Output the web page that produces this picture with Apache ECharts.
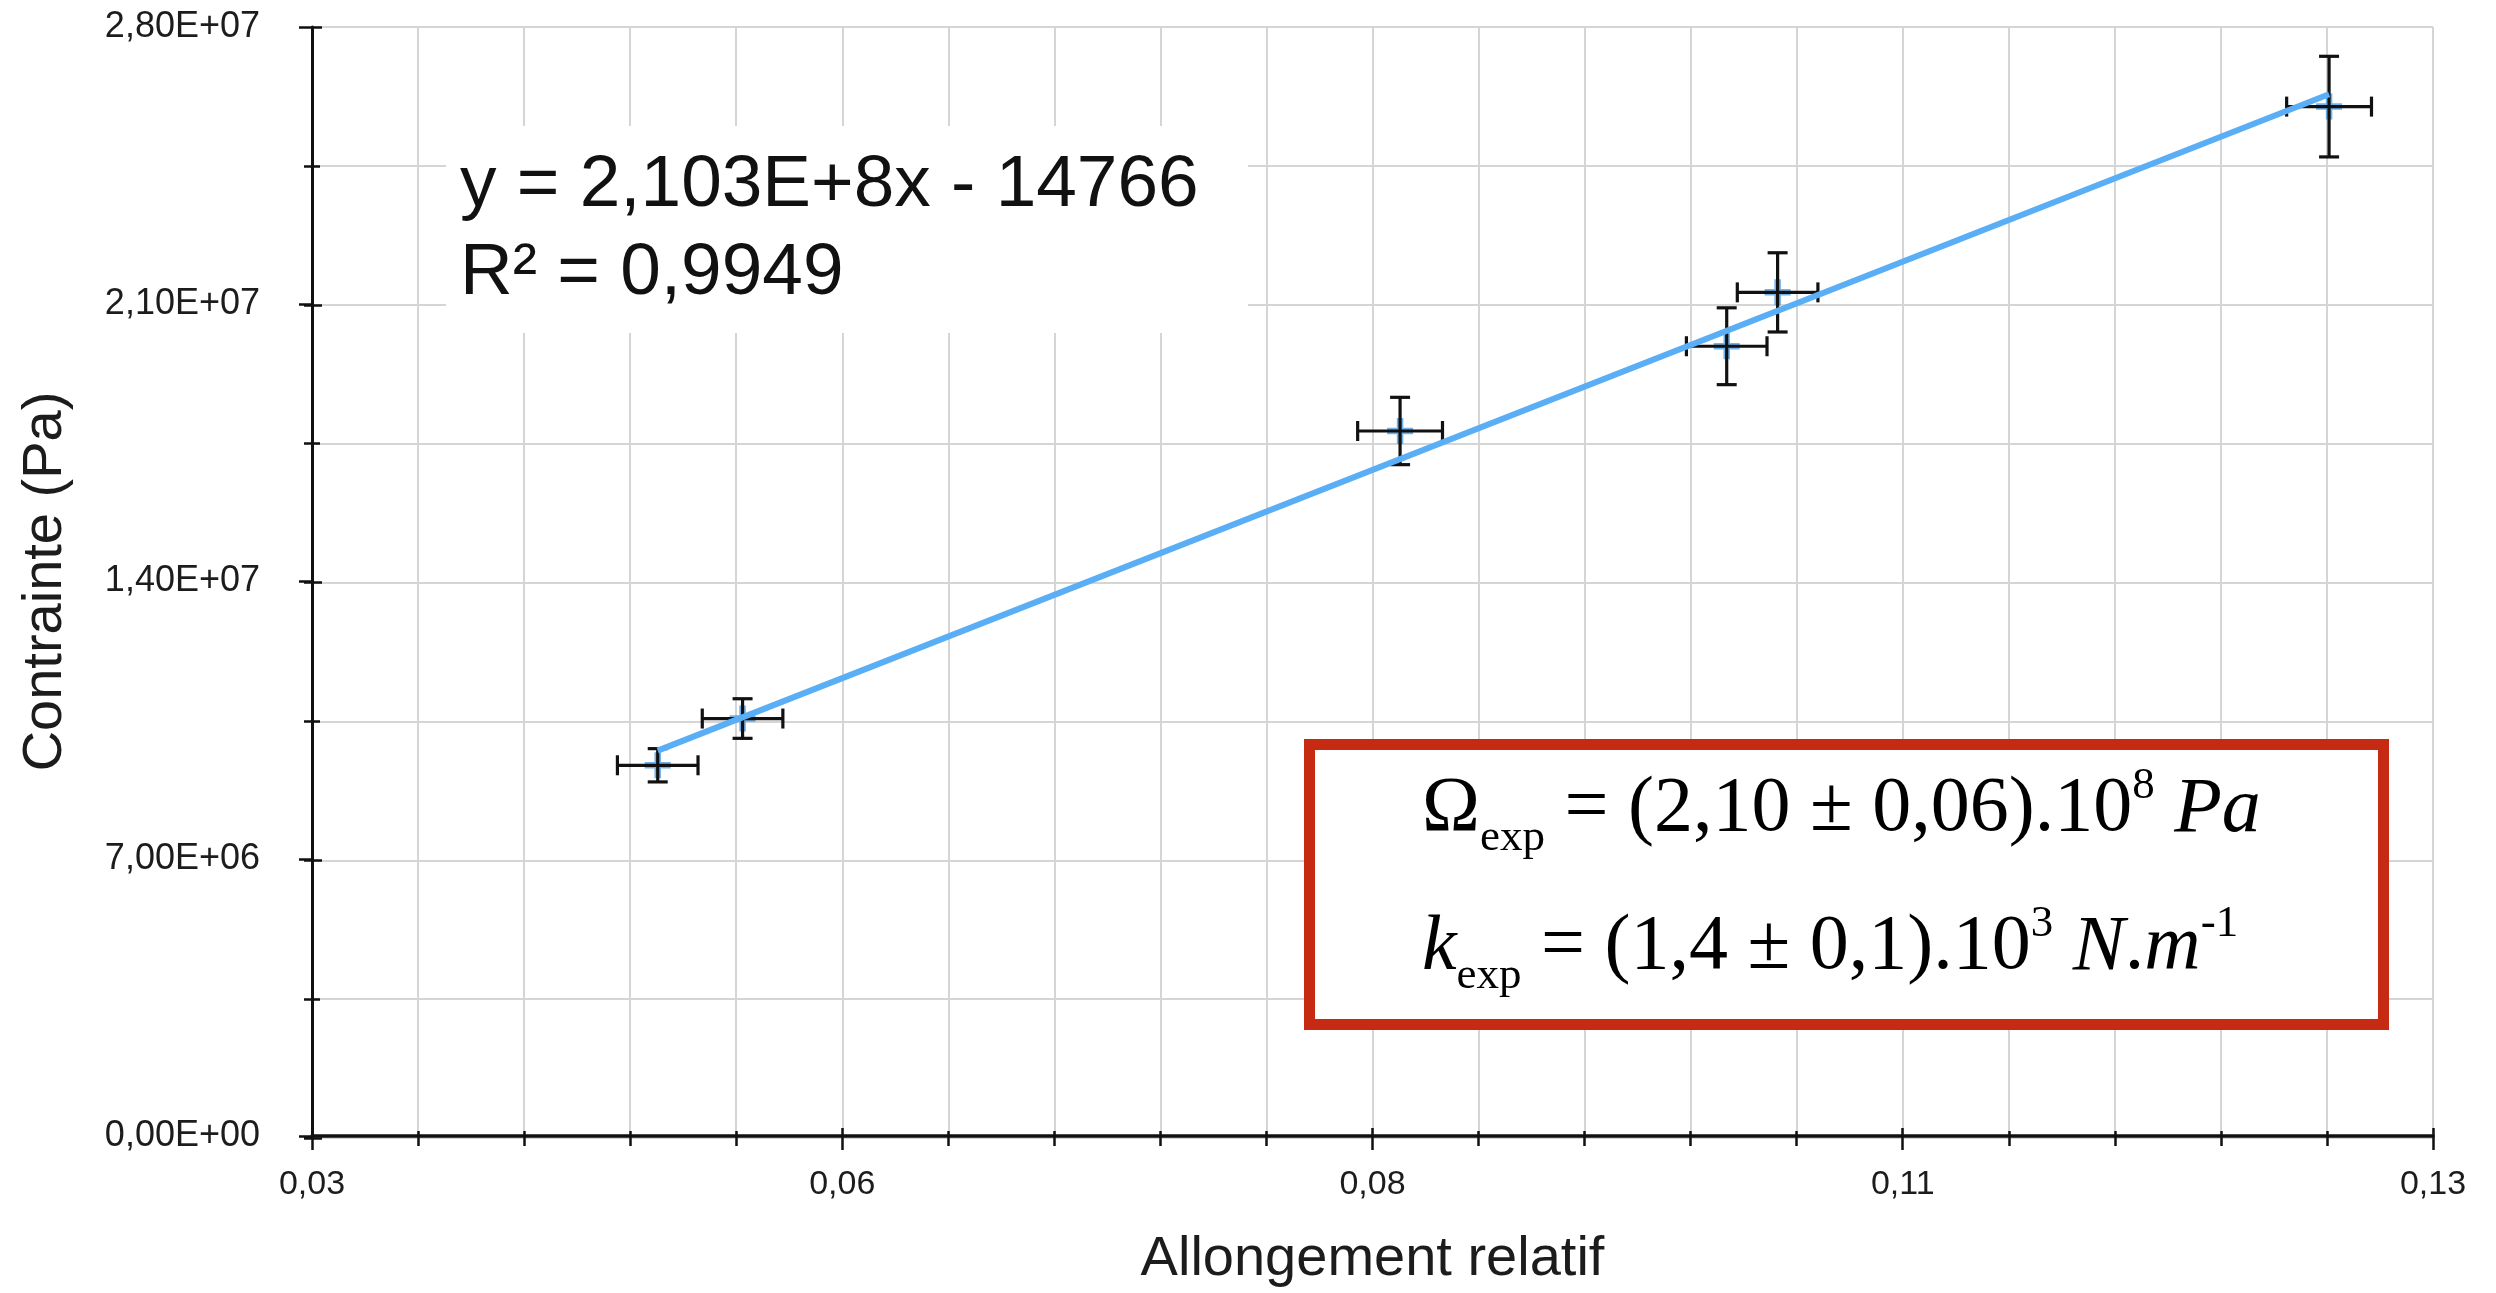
<!DOCTYPE html>
<html>
<head>
<meta charset="utf-8">
<script src="https://cdn.jsdelivr.net/npm/echarts@6/dist/echarts.min.js"></script>
<style>
html,body{margin:0;padding:0;background:#fff;}
#chart{width:2496px;height:1293px;}
</style>
</head>
<body>
<div id="chart"></div>
<script>
// ---- data ----
const xValues = [0.0463, 0.0503, 0.0813, 0.0967, 0.0991, 0.1251];
const yValues = [9.36e6, 1.054e7, 1.780e7, 1.994e7, 2.130e7, 2.599e7];
const xErrors = [0.0019, 0.0019, 0.0020, 0.0019, 0.0019, 0.0020];
const yErrors = [4.2e5, 5.0e5, 8.5e5, 9.7e5, 1.0e6, 1.27e6];
const trendX = [0.0463, 0.1251];
const trendY = [9.73e6, 2.630e7];
const xTickValues = [0.03, 0.055, 0.08, 0.105, 0.13];
const xTickLabels = ['0,03', '0,06', '0,08', '0,11', '0,13'];
const yTickValues = [0, 7e6, 1.4e7, 2.1e7, 2.8e7];
const yTickLabels = ['0,00E+00', '7,00E+06', '1,40E+07', '2,10E+07', '2,80E+07'];
const xTitle = 'Allongement relatif';
const yTitle = 'Contrainte (Pa)';
const fitText = 'y = 2,103E+8x - 14766\nR² = 0,9949';
const resultText = '{o|Ω}{sub|exp}{n| = (2,10 ± 0,06).10}{sup|8}{i| Pa}\n{i|k}{sub|exp}{n| = (1,4 ± 0,1).10}{sup|3}{i| N}{n|.}{i|m}{sup|-1}';

const SANS = '"Liberation Sans", Arial, Helvetica, sans-serif';
const SERIF = '"Liberation Serif", "Times New Roman", serif';
const INK = '#1c1c1c';

const X_MIN = 0.03, X_MAX = 0.13, X_STEP = 0.005;
const Y_MIN = 0, Y_MAX = 2.8e7, Y_STEP = 3.5e6;

function lookup(values, labels, v) {
  for (let i = 0; i < values.length; i++) {
    if (Math.abs(values[i] - v) < Math.abs(values[1] - values[0]) * 1e-6) return labels[i];
  }
  return '';
}

const gridBox = { left: 312, right: 63, top: 27, bottom: 155, containLabel: false };

function xAxisDef(gridIndex, extra) {
  return Object.assign({
    type: 'value', gridIndex: gridIndex, position: 'bottom',
    min: X_MIN, max: X_MAX, interval: X_STEP,
    axisLine: { show: false }, axisLabel: { show: false },
    splitLine: { show: false }, axisTick: { show: false }
  }, extra);
}
function yAxisDef(gridIndex, extra) {
  return Object.assign({
    type: 'value', gridIndex: gridIndex, position: 'left',
    min: Y_MIN, max: Y_MAX, interval: Y_STEP,
    axisLine: { show: false }, axisLabel: { show: false },
    splitLine: { show: false }, axisTick: { show: false }
  }, extra);
}
const tickStyle = { color: '#111', width: 2.5 };
const gridLineStyle = { color: '#d5d5d5', width: 2 };
const PLUS = 'path://M-1,-4h2v3h3v2h-3v3h-2v-3h-3v-2h3z';

const option = {
  animation: false,
  backgroundColor: '#fff',
  grid: [0, 1, 2, 3].map(() => Object.assign({}, gridBox)),
  xAxis: [
    xAxisDef(0, {
      axisLine: { show: true, onZero: false, lineStyle: { color: '#111', width: 3.5 } },
      axisTick: { show: true, customValues: xTickValues, length: 14, lineStyle: tickStyle },
      axisLabel: {
        show: true, customValues: xTickValues, margin: 32,
        fontSize: 34, fontFamily: SANS, color: INK,
        formatter: v => lookup(xTickValues, xTickLabels, v)
      },
      name: xTitle, nameLocation: 'middle', nameGap: 96,
      nameTextStyle: { fontSize: 56, fontFamily: SANS, color: INK }
    }),
    xAxisDef(1, { axisTick: { show: true, inside: true, customValues: xTickValues, length: 10, lineStyle: tickStyle } }),
    xAxisDef(2, {
      axisTick: { show: true, inside: false, length: 8, lineStyle: tickStyle },
      splitLine: { show: true, lineStyle: gridLineStyle }
    }),
    xAxisDef(3, { axisTick: { show: true, inside: true, length: 7, lineStyle: tickStyle } })
  ],
  yAxis: [
    yAxisDef(0, {
      axisLine: { show: true, onZero: false, lineStyle: { color: '#111', width: 3 } },
      axisTick: { show: true, customValues: yTickValues, length: 13, lineStyle: tickStyle },
      axisLabel: {
        show: true, customValues: yTickValues, margin: 52,
        fontSize: 36, fontFamily: SANS, color: INK,
        formatter: v => lookup(yTickValues, yTickLabels, v)
      },
      name: yTitle, nameLocation: 'middle', nameGap: 238,
      nameTextStyle: { fontSize: 56, fontFamily: SANS, color: INK }
    }),
    yAxisDef(1, { axisTick: { show: true, inside: true, customValues: yTickValues, length: 10, lineStyle: tickStyle } }),
    yAxisDef(2, {
      axisTick: { show: true, inside: false, length: 8, lineStyle: tickStyle },
      splitLine: { show: true, lineStyle: gridLineStyle }
    }),
    yAxisDef(3, { axisTick: { show: true, inside: true, length: 8, lineStyle: tickStyle } })
  ],
  series: [
    {
      type: 'scatter', xAxisIndex: 0, yAxisIndex: 0, z: 2,
      symbol: PLUS, symbolSize: 26,
      itemStyle: { color: '#4c9fe6' },
      data: xValues.map((x, i) => [x, yValues[i]])
    },
    {
      type: 'custom', xAxisIndex: 0, yAxisIndex: 0, z: 3,
      encode: { x: 0, y: 1 },
      data: xValues.map((x, i) => [x, yValues[i], xErrors[i], yErrors[i]]),
      renderItem: function (params, api) {
        const x = api.value(0), y = api.value(1), ex = api.value(2), ey = api.value(3);
        const l = api.coord([x - ex, y]), r = api.coord([x + ex, y]);
        const t = api.coord([x, y + ey]), b = api.coord([x, y - ey]);
        const cap = 10;
        const st = { stroke: '#111', lineWidth: 3.2 };
        return {
          type: 'group',
          children: [
            { type: 'line', shape: { x1: l[0], y1: l[1], x2: r[0], y2: r[1] }, style: st },
            { type: 'line', shape: { x1: l[0], y1: l[1] - cap, x2: l[0], y2: l[1] + cap }, style: st },
            { type: 'line', shape: { x1: r[0], y1: r[1] - cap, x2: r[0], y2: r[1] + cap }, style: st },
            { type: 'line', shape: { x1: t[0], y1: t[1], x2: b[0], y2: b[1] }, style: st },
            { type: 'line', shape: { x1: t[0] - cap, y1: t[1], x2: t[0] + cap, y2: t[1] }, style: st },
            { type: 'line', shape: { x1: b[0] - cap, y1: b[1], x2: b[0] + cap, y2: b[1] }, style: st }
          ]
        };
      }
    },
    {
      type: 'line', xAxisIndex: 0, yAxisIndex: 0, z: 4,
      showSymbol: false, symbol: 'none',
      lineStyle: { color: '#5aaef5', width: 6 },
      data: trendX.map((x, i) => [x, trendY[i]])
    }
  ],
  graphic: [
    { type: 'rect', z: 50, shape: { x: 446, y: 126, width: 802, height: 207 }, style: { fill: '#fff' } },
    { type: 'text', z: 51, x: 460, y: 142,
      style: { text: fitText, font: '73px ' + SANS, fill: '#111', lineHeight: 88, align: 'left', verticalAlign: 'top' } },
    { type: 'rect', z: 50, shape: { x: 1309.5, y: 744.5, width: 1074, height: 280 },
      style: { fill: '#fff', stroke: '#c62a12', lineWidth: 11 } },
    { type: 'text', z: 51, x: 1422, y: 741,
      style: {
        text: resultText, align: 'left', verticalAlign: 'top', fill: '#000',
        fontSize: 78, fontFamily: SERIF, lineHeight: 138,
        rich: {
          n: { fontSize: 78, fontFamily: SERIF, fill: '#000', lineHeight: 138 },
          o: { fontSize: 78, fontFamily: SERIF, fill: '#000', lineHeight: 138 },
          i: { fontSize: 78, fontFamily: SERIF, fontStyle: 'italic', fill: '#000', lineHeight: 138 },
          sub: { fontSize: 45, fontFamily: SERIF, fill: '#000', padding: [56, 0, 0, 0] },
          sup: { fontSize: 45, fontFamily: SERIF, fill: '#000', padding: [0, 0, 48, 0] }
        }
      }
    }
  ]
};

const chart = echarts.init(document.getElementById('chart'), null, { renderer: 'canvas' });
chart.setOption(option);
</script>
</body>
</html>
